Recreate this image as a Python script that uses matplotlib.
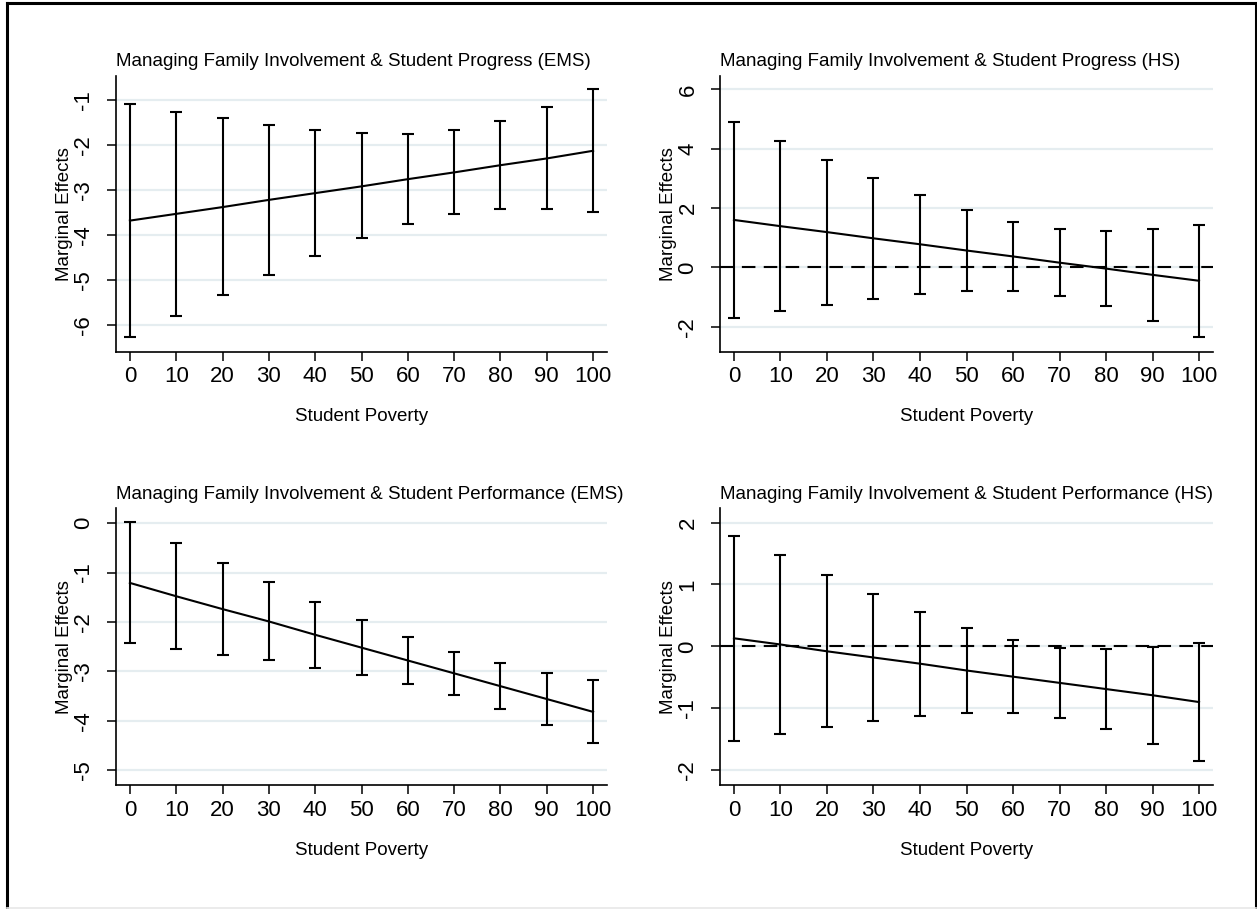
import matplotlib
matplotlib.use("Agg")
import matplotlib.pyplot as plt
from matplotlib.lines import Line2D

plt.rcParams['font.family'] = ['Liberation Sans', 'DejaVu Sans']

# Student poverty levels (x axis)
poverty = [0, 10, 20, 30, 40, 50, 60, 70, 80, 90, 100]

# Panel 1: Student Progress (EMS)
prog_ems_est = [-3.68, -3.53, -3.38, -3.22, -3.07, -2.92, -2.76, -2.61, -2.45, -2.30, -2.13]
prog_ems_hi = [-1.10, -1.27, -1.41, -1.55, -1.67, -1.74, -1.76, -1.67, -1.46, -1.15, -0.76]
prog_ems_lo = [-6.27, -5.79, -5.33, -4.89, -4.47, -4.07, -3.75, -3.53, -3.43, -3.43, -3.50]

# Panel 2: Student Progress (HS)
prog_hs_est = [1.60, 1.39, 1.19, 0.98, 0.78, 0.57, 0.37, 0.16, -0.04, -0.25, -0.45]
prog_hs_hi = [4.89, 4.25, 3.63, 3.02, 2.45, 1.93, 1.54, 1.28, 1.24, 1.29, 1.44]
prog_hs_lo = [-1.71, -1.48, -1.25, -1.07, -0.90, -0.80, -0.80, -0.96, -1.30, -1.79, -2.35]

# Panel 3: Student Performance (EMS)
perf_ems_est = [-1.21, -1.48, -1.74, -1.99, -2.26, -2.52, -2.78, -3.04, -3.30, -3.56, -3.82]
perf_ems_hi = [0.02, -0.41, -0.80, -1.20, -1.59, -1.97, -2.31, -2.61, -2.84, -3.03, -3.18]
perf_ems_lo = [-2.43, -2.55, -2.67, -2.78, -2.93, -3.07, -3.25, -3.47, -3.76, -4.09, -4.46]

# Panel 4: Student Performance (HS)
perf_hs_est = [0.13, 0.03, -0.08, -0.18, -0.28, -0.39, -0.49, -0.59, -0.69, -0.79, -0.90]
perf_hs_hi = [1.79, 1.47, 1.15, 0.85, 0.56, 0.30, 0.10, -0.02, -0.05, -0.01, 0.06]
perf_hs_lo = [-1.53, -1.41, -1.30, -1.20, -1.12, -1.07, -1.07, -1.15, -1.33, -1.57, -1.85]

titles = [
    "Managing Family Involvement & Student Progress (EMS)",
    "Managing Family Involvement & Student Progress (HS)",
    "Managing Family Involvement & Student Performance (EMS)",
    "Managing Family Involvement & Student Performance (HS)",
]
yticks = [[-6, -5, -4, -3, -2, -1], [-2, 0, 2, 4, 6], [-5, -4, -3, -2, -1, 0], [-2, -1, 0, 1, 2]]
ylims = [(-6.59, -0.47), (-2.84, 6.45), (-5.30, 0.30), (-2.24, 2.23)]
zero_line = [False, True, False, True]

W, H = 1257, 909
fig = plt.figure(figsize=(W / 100, H / 100), dpi=100)

# axes boxes in pixels: left, top, right, bottom
boxes = [(116, 76, 607, 351.7), (720, 76, 1213, 351.7),
         (116, 508.3, 607, 785), (720, 508.3, 1213, 785)]

data = [
    (prog_ems_est, prog_ems_lo, prog_ems_hi),
    (prog_hs_est, prog_hs_lo, prog_hs_hi),
    (perf_ems_est, perf_ems_lo, perf_ems_hi),
    (perf_hs_est, perf_hs_lo, perf_hs_hi),
]

grid_col = '#e5edf0'

for i in range(4):
    l, t, r, b = boxes[i]
    ax = fig.add_axes([l / W, 1 - b / H, (r - l) / W, (b - t) / H])
    est, lo, hi = data[i]

    # grid lines first so everything sits on top
    for yv in yticks[i]:
        ax.axhline(yv, color=grid_col, lw=1.6, zorder=0)
    if zero_line[i]:
        ax.axhline(0, color='black', lw=1.5, linestyle=(0, (6.5, 4)), zorder=1)

    # confidence intervals
    yerr = [[e - lo_ for e, lo_ in zip(est, lo)], [hi_ - e for e, hi_ in zip(est, hi)]]
    ax.errorbar(poverty, est, yerr=yerr, fmt='none', ecolor='black',
                elinewidth=1.5, capsize=4.3, capthick=1.5, zorder=2)
    ax.plot(poverty, est, color='black', lw=1.5, zorder=3)

    ax.set_xlim(-3, 103)
    ax.set_ylim(*ylims[i])
    ax.set_xticks(poverty)
    ax.set_yticks(yticks[i])
    ax.set_yticklabels([str(v) for v in yticks[i]], rotation=90, va='center')

    for s in ['top', 'right']:
        ax.spines[s].set_visible(False)
    for s in ['left', 'bottom']:
        ax.spines[s].set_linewidth(1.2)

    ax.tick_params(axis='both', direction='out', length=6.5, width=1.1,
                   labelsize=16, colors='black')
    ax.tick_params(axis='y', pad=9)
    ax.tick_params(axis='x', pad=4)

    ax.set_title(titles[i], loc='left', fontsize=13.5, pad=7)
    ax.set_xlabel("Student Poverty", fontsize=13.5)
    ax.set_ylabel("Marginal Effects", fontsize=13.5)
    ax.xaxis.set_label_coords(0.5, -0.205)
    ax.yaxis.set_label_coords(-0.088, 0.5)

# outer frame of the graph region
fig.add_artist(Line2D([7 / W, 7 / W], [0, 1 - 2.5 / H], color='black', lw=2.2, transform=fig.transFigure))
fig.add_artist(Line2D([7 / W, 1256 / W], [1 - 2.5 / H, 1 - 2.5 / H], color='black', lw=2.2, transform=fig.transFigure))
fig.add_artist(Line2D([1256 / W, 1256 / W], [0, 1 - 2.5 / H], color='black', lw=2.2, transform=fig.transFigure))
fig.add_artist(Line2D([7 / W, 1256 / W], [1.5 / H, 1.5 / H], color='#e8e8e8', lw=1.2, transform=fig.transFigure))

fig.savefig("out.png", dpi=100)
